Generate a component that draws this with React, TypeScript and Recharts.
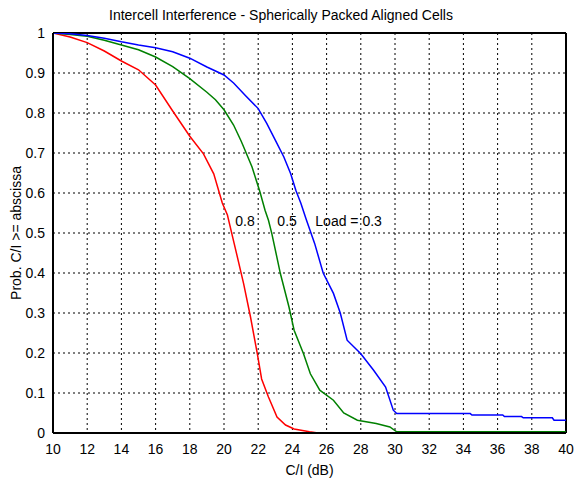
import { LineChart, Line, XAxis, YAxis, CartesianGrid, ReferenceLine, ReferenceDot } from "recharts";

// C/I (dB) vs P(C/I >= abscissa)
const load08X = [10, 11, 12, 13, 14, 15, 16, 17, 18, 18.8, 19.4, 19.9, 20.2, 20.6, 21.15, 21.55, 21.95, 22.2, 22.6, 23.1, 23.6, 24.1, 25, 25.5, 40];
const load08Y = [1, 0.99, 0.976, 0.955, 0.93, 0.908, 0.87, 0.805, 0.742, 0.698, 0.648, 0.575, 0.545, 0.473, 0.373, 0.29, 0.198, 0.135, 0.09, 0.04, 0.02, 0.01, 0.003, 0, 0];

const load05X = [10, 11, 12, 13, 14, 15, 16, 17, 18, 19, 19.5, 20, 20.56, 21, 21.15, 21.64, 22.1, 22.4, 22.6, 22.8, 23.3, 23.8, 24.1, 24.65, 25.05, 25.6, 26.4, 27, 27.8, 28.9, 29.7, 30.1, 40];
const load05Y = [1, 0.996, 0.992, 0.982, 0.97, 0.958, 0.94, 0.916, 0.886, 0.852, 0.833, 0.808, 0.77, 0.73, 0.715, 0.665, 0.603, 0.557, 0.532, 0.498, 0.398, 0.315, 0.257, 0.198, 0.148, 0.107, 0.082, 0.05, 0.032, 0.024, 0.015, 0.003, 0.003];

const load03X = [10, 11, 12, 13, 14, 15, 16, 17, 18, 19, 20, 20.56, 21.25, 22, 22.5, 23, 23.5, 23.9, 24.2, 24.5, 24.8, 25.3, 25.8, 26.4, 26.8, 27.2, 28, 28.75, 29.45, 29.9, 30.1, 34.4, 34.5, 36.3, 36.4, 37.4, 37.5, 39.2, 39.3, 40];
const load03Y = [1, 0.998, 0.994, 0.987, 0.978, 0.97, 0.963, 0.953, 0.937, 0.915, 0.895, 0.875, 0.844, 0.811, 0.774, 0.732, 0.69, 0.648, 0.607, 0.574, 0.535, 0.474, 0.4, 0.349, 0.3, 0.232, 0.198, 0.157, 0.115, 0.057, 0.0485, 0.0485, 0.045, 0.045, 0.041, 0.041, 0.038, 0.038, 0.032, 0.032];

const xTicks = [10, 12, 14, 16, 18, 20, 22, 24, 26, 28, 30, 32, 34, 36, 38, 40];
const yTicks = [0, 0.1, 0.2, 0.3, 0.4, 0.5, 0.6, 0.7, 0.8, 0.9, 1];
const yTickLabels = ["0", "0.1", "0.2", "0.3", "0.4", "0.5", "0.6", "0.7", "0.8", "0.9", "1"];

const toPoints = (xs: number[], ys: number[]) => xs.map((x, i) => ({ x, y: ys[i] }));

const FONT = "'Liberation Sans', Arial, sans-serif";
const FS = 14;
const tickStyle = { fill: "#000", fontSize: FS, fontFamily: FONT };

export default function App() {
  return (
    <div style={{ position: "absolute", left: 0, top: 0, width: 576, height: 479, background: "#fff", fontFamily: FONT }}>
      <div style={{ position: "absolute", left: 0, top: 7, width: 562, textAlign: "center", fontSize: FS }}>
        Intercell Interference - Spherically Packed Aligned Cells
      </div>
      <LineChart width={576} height={479} margin={{ top: 33, right: 10, bottom: 2, left: 0 }}>
        <CartesianGrid stroke="#000" strokeDasharray="2 3" strokeWidth={1} />
        <XAxis
          type="number"
          dataKey="x"
          domain={[10, 40]}
          ticks={xTicks}
          allowDataOverflow
          tickLine={false}
          tickMargin={5}
          axisLine={{ stroke: "#000", strokeWidth: 2 }}
          tick={tickStyle}
          height={44}
          label={{ value: "C/I (dB)", position: "insideBottom", offset: 2, fill: "#000", fontSize: FS, fontFamily: FONT }}
        />
        <YAxis
          type="number"
          dataKey="y"
          domain={[0, 1]}
          ticks={yTicks}
          allowDataOverflow
          tickLine={false}
          axisLine={{ stroke: "#000", strokeWidth: 2 }}
          tick={tickStyle}
          tickFormatter={(v: number) => yTickLabels[yTicks.indexOf(v)] ?? String(v)}
          width={53}
          label={{ value: "Prob. C/I >= abscissa", angle: -90, position: "center", dx: -10, fill: "#000", fontSize: FS, fontFamily: FONT }}
        />
        <ReferenceLine y={1} stroke="#000" strokeWidth={2} />
        <ReferenceLine x={40} stroke="#000" strokeWidth={2} />
        <Line data={toPoints(load08X, load08Y)} dataKey="y" type="linear" stroke="#ff0000" strokeWidth={1.5} dot={false} isAnimationActive={false} />
        <Line data={toPoints(load05X, load05Y)} dataKey="y" type="linear" stroke="#008000" strokeWidth={1.5} dot={false} isAnimationActive={false} />
        <Line data={toPoints(load03X, load03Y)} dataKey="y" type="linear" stroke="#0000ff" strokeWidth={1.5} dot={false} isAnimationActive={false} />
        <ReferenceDot x={20.66} y={0.53} r={0} fill="none" stroke="none" label={{ value: "0.8", position: "right", offset: 0, fill: "#000", fontSize: FS, fontFamily: FONT }} />
        <ReferenceDot x={23.12} y={0.53} r={0} fill="none" stroke="none" label={{ value: "0.5", position: "right", offset: 0, fill: "#000", fontSize: FS, fontFamily: FONT }} />
        <ReferenceDot x={25.34} y={0.53} r={0} fill="none" stroke="none" label={{ value: "Load = 0.3", position: "right", offset: 0, fill: "#000", fontSize: FS, fontFamily: FONT }} />
      </LineChart>
    </div>
  );
}
